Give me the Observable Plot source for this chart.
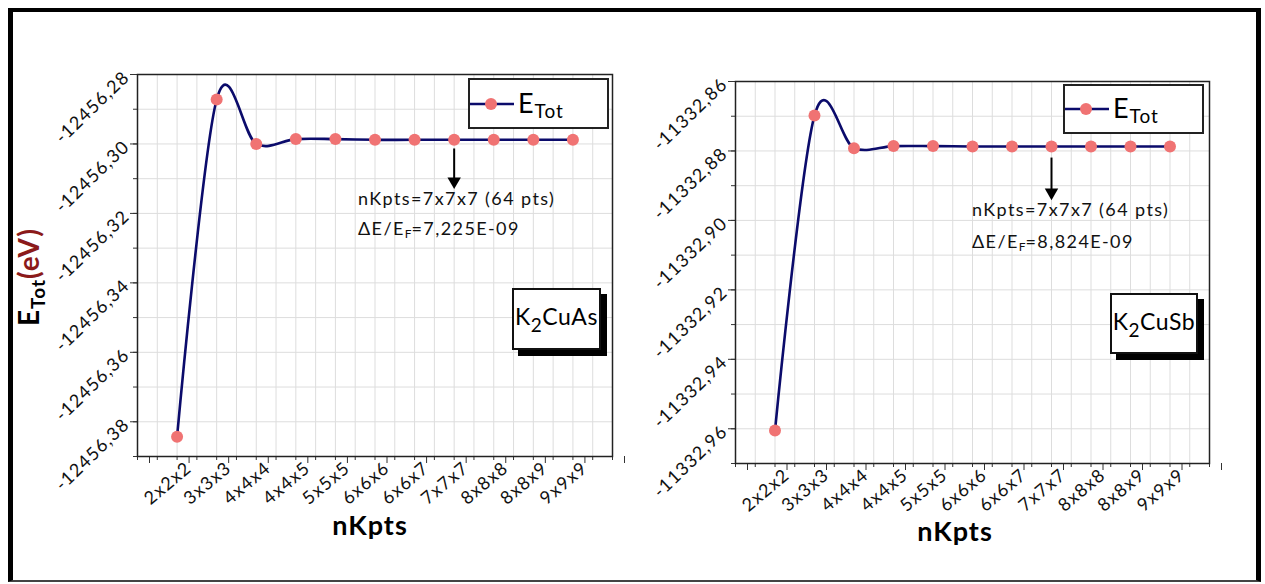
<!DOCTYPE html>
<html><head><meta charset="utf-8">
<script src="https://cdn.jsdelivr.net/npm/d3@7"></script>
<script src="https://cdn.jsdelivr.net/npm/@observablehq/plot@0.6"></script>
<style>
body{margin:0;background:#fff;}
#wrap{position:relative;width:1265px;height:584px;overflow:hidden;font-family:"Comic Sans MS","Lato","DejaVu Sans",sans-serif;}
.abs{position:absolute;}
.legend{border:2px solid #222;background:#fff;box-sizing:border-box;display:flex;align-items:center;}
.legend span{font-size:27px;margin-left:4px;letter-spacing:1px;}
.legend sub{font-size:19px;vertical-align:-5px;}
.cbox{border:2px solid #111;background:#fff;box-sizing:border-box;box-shadow:6px 6px 0 #000;display:flex;align-items:center;justify-content:center;}
.cbox span{font-size:23px;letter-spacing:0.5px;}
.cbox sub{font-size:19px;vertical-align:-7px;}
.note{font-size:18px;white-space:nowrap;color:#111;letter-spacing:1.4px;}
.note sub{font-size:12px;vertical-align:-3px;letter-spacing:0;}
.kplot text{letter-spacing:1.2px;}
</style></head>
<body><div id="wrap"></div>
<script>
const categories = ["2x2x2","3x3x3","4x4x4","4x4x5","5x5x5","6x6x6","6x6x7","7x7x7","8x8x8","8x8x9","9x9x9"];
const energyAs = [-12456.3843,-12456.2872,-12456.3000,-12456.2986,-12456.2986,-12456.2988,-12456.2988,-12456.2988,-12456.2988,-12456.2988,-12456.2988];
const energySb = [-11332.9605,-11332.8698,-11332.8792,-11332.8786,-11332.8786,-11332.8787,-11332.8787,-11332.8787,-11332.8787,-11332.8787,-11332.8787];
const ticksAs = [-12456.38,-12456.36,-12456.34,-12456.32,-12456.30,-12456.28];
const ticksSb = [-11332.96,-11332.94,-11332.92,-11332.90,-11332.88,-11332.86];
const domainAs = [-12456.39,-12456.28];
const domainSb = [-11332.97,-11332.86];
const arrowAs = [-12456.3013,-12456.3119];
const arrowSb = [-11332.8819,-11332.8931];
const annotIndex = 7; // 7x7x7

const FONT = '"Comic Sans MS","Lato","DejaVu Sans",sans-serif';
const fmt = v => v.toFixed(2).replace(".", ",");

function makePlot(values, ticks, domain, arrowY, m, w) {
  const data = categories.map((c,i)=>({x:i+1, c, y:values[i]}));
  const minorY = d3.range(Math.round(domain[0]*100), Math.round(domain[1]*100)+1).map(v=>v/100);
  const xs = d3.range(0,12.5,0.5);
  const xMaj = d3.range(0,13);
  return Plot.plot({
    className: "kplot",
    width: w, height: 584,
    marginTop: m.t, marginLeft: m.l, marginRight: m.r, marginBottom: m.b,
    style: {fontFamily: FONT, fontSize: "17px", color: "#111", background: "transparent", overflow: "visible"},
    x: {domain: [0,12]},
    y: {domain},
    marks: [
      Plot.gridY(minorY, {stroke: "#ddd", strokeOpacity: 1}),
      Plot.gridX(xs, {stroke: "#ddd", strokeOpacity: 1}),
      Plot.axisY(minorY, {tickSize: 4, stroke: "#333", label: null, text: null}),
      Plot.axisY(ticks, {tickSize: 7, tickRotate: -44, tickFormat: fmt, tickPadding: 4, stroke: "#333", label: null, fontSize: 18}),
      Plot.axisX(xs, {tickSize: 4, text: null, stroke: "#333", label: null}),
      Plot.axisX(xMaj, {tickSize: 7, tickRotate: -40, tickPadding: 2, dx: 12, tickFormat: i => categories[i-1] ?? "", stroke: "#333", label: null, fontSize: 18}),
      Plot.frame({stroke: "#222", strokeWidth: 1.5}),
      Plot.line(data, {x: "x", y: "y", curve: "cardinal", tension: 0, stroke: "#0b0b6b", strokeWidth: 2.6}),
      Plot.dot(data, {x: "x", y: "y", r: 6, fill: "#f07373", stroke: "none"}),
      Plot.link([{x: annotIndex+1, y1: arrowY[0], y2: arrowY[1]}], {x1:"x", x2:"x", y1:"y1", y2:"y2", stroke:"#000", strokeWidth: 2}),
      Plot.dot([{x: annotIndex+1, y: arrowY[1]}], {x:"x", y:"y", symbol:"triangle", rotate:180, r:5, fill:"#000", dy:-4})
    ]
  });
}

const wrap = document.getElementById("wrap");
const p1 = makePlot(energyAs, ticksAs, domainAs, arrowAs, {t:74,l:137,r:28,b:128}, 640);
p1.style.position = "absolute"; p1.style.left = "0px"; p1.style.top = "0px";
wrap.appendChild(p1);
const p2 = makePlot(energySb, ticksSb, domainSb, arrowSb, {t:81,l:95,r:56,b:121}, 625);
p2.style.position = "absolute"; p2.style.left = "640px"; p2.style.top = "0px";
wrap.appendChild(p2);

function add(html, css, cls) {
  const d = document.createElement("div");
  d.className = "abs " + (cls||"");
  d.innerHTML = html;
  Object.assign(d.style, css);
  wrap.appendChild(d);
  return d;
}
const legSvg = '<svg width="44" height="14"><line x1="0" y1="7" x2="44" y2="7" stroke="#0b0b6b" stroke-width="2.6"/><circle cx="21" cy="7" r="6" fill="#f07373"/></svg>';
add(legSvg + '<span>E<sub>Tot</sub></span>', {left:"468px", top:"78px", width:"141px", height:"51px"}, "legend");
add(legSvg + '<span>E<sub>Tot</sub></span>', {left:"1063px", top:"84px", width:"141px", height:"50px"}, "legend");

add('<span>K<sub>2</sub>CuAs</span>', {left:"512px", top:"288px", width:"89px", height:"62px"}, "cbox");
add('<span>K<sub>2</sub>CuSb</span>', {left:"1110px", top:"293px", width:"88px", height:"61px"}, "cbox");

add('nKpts=7x7x7 (64 pts)', {left:"358px", top:"187px"}, "note");
add('ΔE/E<sub>F</sub>=7,225E-09', {left:"358px", top:"217px"}, "note");
add('nKpts=7x7x7 (64 pts)', {left:"972px", top:"198px"}, "note");
add('ΔE/E<sub>F</sub>=8,824E-09', {left:"972px", top:"230px"}, "note");

add('nKpts', {left:"320px", top:"508px", width:"100px", textAlign:"center", fontSize:"27px", fontWeight:"bold", letterSpacing:"1px"});
add('nKpts', {left:"905px", top:"514px", width:"100px", textAlign:"center", fontSize:"27px", fontWeight:"bold", letterSpacing:"1px"});

add('E<sub style="font-size:19px;vertical-align:-6px">Tot</sub><span style="color:#8b1a1a">(eV)</span>',
  {left:"-45px", top:"258px", width:"150px", textAlign:"center", fontSize:"28px", fontWeight:"bold", transform:"rotate(-90deg)", whiteSpace:"nowrap", letterSpacing:"1px"});

add('', {left:"8px", top:"8px", width:"1243px", height:"568px", borderLeft:"5px solid #000", borderTop:"4px solid #000", borderRight:"5px solid #000", borderBottom:"2px solid #444", pointerEvents:"none"});
</script></body></html>
